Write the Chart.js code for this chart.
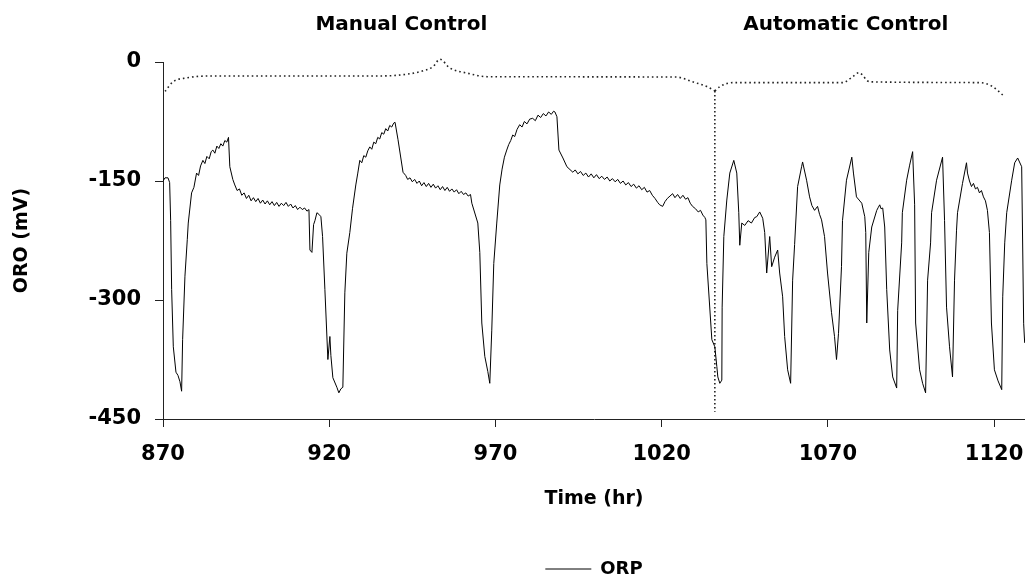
<!DOCTYPE html>
<html><head><meta charset="utf-8">
<script src="https://cdn.jsdelivr.net/npm/chart.js@4/dist/chart.umd.min.js"></script>
<style>html,body{margin:0;padding:0;background:#fff;}canvas{display:block;}</style>
</head><body>
<canvas id="c" width="1025" height="579"></canvas>
<script>
// ---------- data ----------
const orpTime = [
 870.0, 870.6, 871.5, 872.0, 872.3, 872.6, 873.1, 873.9, 874.5, 875.1,
 875.6, 875.9, 876.6, 877.3, 877.6, 878.6, 879.3, 880.1, 880.7, 881.3,
 882.0, 882.6, 883.2, 883.9, 884.5, 885.0, 885.6, 886.2, 886.8, 887.4,
 888.0, 888.6, 889.2, 889.7, 890.1, 891.0, 891.6, 892.3, 893.0, 893.7,
 894.4, 895.1, 895.8, 896.5, 897.2, 897.9, 898.6, 899.3, 900.0, 900.7,
 901.4, 902.1, 902.8, 903.5, 904.2, 904.9, 905.6, 906.3, 907.0, 907.7,
 908.4, 909.1, 909.8, 910.5, 911.2, 911.9, 912.6, 913.3, 913.9, 914.2,
 914.8, 915.3, 915.7, 916.3, 916.9, 917.5, 918.0, 918.7, 919.6, 920.2,
 920.5, 921.1, 922.3, 922.9, 923.5, 924.1, 924.7, 925.3, 926.2, 927.0,
 928.0, 928.6, 929.2, 929.8, 930.4, 931.0, 931.6, 932.2, 932.8, 933.4,
 934.0, 934.6, 935.2, 935.8, 936.4, 937.0, 937.6, 938.2, 938.8, 939.4,
 939.8, 940.7, 942.2, 943.0, 943.6, 944.3, 945.0, 945.7, 946.4, 947.1,
 947.8, 948.5, 949.2, 949.9, 950.6, 951.3, 952.0, 952.7, 953.4, 954.1,
 954.8, 955.5, 956.2, 956.9, 957.6, 958.3, 959.0, 959.7, 960.4, 961.1,
 961.8, 962.5, 962.9, 964.7, 965.3, 965.9, 966.8, 967.7, 968.3, 968.9,
 969.5, 970.4, 971.3, 972.0, 972.7, 973.4, 974.0, 974.6, 975.2, 975.8,
 976.5, 977.3, 978.0, 978.7, 979.5, 980.3, 981.2, 982.0, 982.8, 983.6,
 984.4, 985.2, 986.0, 986.8, 987.5, 987.9, 988.5, 989.1, 990.3, 991.5,
 993.3, 994.0, 994.8, 995.6, 996.4, 997.2, 998.0, 998.8, 999.6, 1000.4,
 1001.2, 1002.0, 1002.8, 1003.6, 1004.4, 1005.2, 1006.0, 1006.8, 1007.6, 1008.4,
 1009.2, 1010.0, 1010.8, 1011.6, 1012.4, 1013.2, 1014.0, 1014.8, 1015.6, 1016.4,
 1017.2, 1018.0, 1018.8, 1019.4, 1020.3, 1021.0, 1021.7, 1022.5, 1023.3, 1024.0,
 1024.8, 1025.6, 1026.4, 1027.2, 1027.9, 1028.6, 1029.3, 1030.2, 1031.0, 1031.7,
 1032.4, 1033.0, 1033.3, 1033.6, 1035.1, 1036.0, 1036.6, 1036.9, 1037.5, 1038.1,
 1038.2, 1038.7, 1039.6, 1040.5, 1041.7, 1042.6, 1043.2, 1043.5, 1044.1, 1045.0,
 1046.0, 1047.0, 1048.0, 1048.6, 1049.5, 1050.4, 1051.0, 1051.6, 1052.5, 1053.1,
 1054.0, 1054.9, 1055.5, 1056.4, 1057.0, 1057.9, 1058.8, 1059.4, 1060.0, 1060.9,
 1062.1, 1062.4, 1063.6, 1064.5, 1065.2, 1066.0, 1066.9, 1067.5, 1068.1, 1069.0,
 1069.9, 1071.1, 1072.0, 1072.6, 1073.2, 1074.1, 1074.4, 1075.6, 1077.2, 1077.7,
 1078.6, 1079.4, 1080.2, 1081.1, 1081.4, 1081.7, 1082.3, 1083.2, 1084.7, 1085.2,
 1085.6, 1086.0, 1086.5, 1087.1, 1087.7, 1088.6, 1089.5, 1090.7, 1091.0, 1092.2,
 1092.4, 1093.7, 1094.6, 1095.5, 1096.1, 1096.4, 1097.6, 1098.5, 1099.4, 1100.0,
 1100.9, 1101.2, 1102.7, 1104.5, 1105.1, 1105.7, 1106.6, 1107.5, 1108.1, 1108.7,
 1109.0, 1110.5, 1111.7, 1112.0, 1112.6, 1113.2, 1113.8, 1114.4, 1115.0, 1115.6,
 1116.2, 1116.8, 1117.4, 1118.0, 1118.6, 1119.2, 1120.1, 1121.2, 1122.3, 1122.6,
 1123.2, 1123.8, 1125.3, 1126.2, 1127.1, 1128.3, 1128.9, 1129.2
];
const orpValue = [
 -150, -146, -146, -152, -200, -287, -359, -391, -395, -403,
 -415, -350, -270, -224, -203, -165, -158, -140, -143, -131,
 -124, -128, -119, -122, -113, -111, -115, -106, -109, -103,
 -106, -99, -101, -95, -132, -148, -155, -162, -160, -168,
 -165, -172, -168, -175, -171, -176, -172, -178, -174, -179,
 -175, -180, -176, -181, -177, -182, -178, -181, -177, -182,
 -179, -184, -181, -186, -183, -186, -184, -188, -186, -237,
 -240, -205, -200, -190, -192, -195, -220, -287, -375, -346,
 -370, -398, -410, -417, -412, -410, -291, -241, -215, -185,
 -155, -140, -124, -127, -118, -120, -112, -107, -110, -101,
 -103, -95, -97, -89, -91, -84, -87, -80, -82, -77,
 -76, -98, -139, -143, -148, -146, -151, -148, -153, -150,
 -156, -152, -157, -153, -158, -154, -159, -156, -161, -157,
 -162, -158, -163, -160, -164, -161, -166, -163, -167, -165,
 -169, -167, -178, -203, -240, -329, -371, -390, -405, -338,
 -254, -203, -155, -135, -120, -111, -104, -99, -92, -94,
 -85, -79, -82, -75, -78, -72, -71, -74, -67, -70,
 -65, -68, -63, -66, -62, -63, -69, -111, -121, -132,
 -139, -136, -141, -138, -143, -140, -145, -141, -146, -142,
 -147, -144, -148, -145, -150, -147, -151, -148, -153, -150,
 -155, -152, -157, -154, -159, -156, -161, -158, -164, -162,
 -168, -172, -177, -180, -182, -176, -172, -169, -166, -171,
 -167, -172, -168, -173, -171, -178, -182, -185, -189, -187,
 -193, -196, -199, -254, -350, -359, -384, -397, -405, -401,
 -309, -220, -174, -140, -124, -140, -190, -231, -203, -206,
 -200, -203, -196, -195, -189, -197, -215, -266, -220, -258,
 -246, -237, -266, -296, -346, -388, -405, -275, -230, -157,
 -132, -126, -149, -170, -181, -187, -182, -192, -199, -220,
 -266, -316, -346, -375, -342, -258, -200, -149, -120, -140,
 -170, -174, -178, -195, -215, -329, -240, -208, -187, -183,
 -180, -185, -184, -208, -287, -363, -397, -411, -313, -228,
 -190, -149, -130, -113, -180, -329, -388, -405, -417, -275,
 -228, -190, -149, -120, -200, -309, -359, -397, -275, -212,
 -190, -153, -127, -140, -150, -157, -153, -160, -158, -165,
 -162, -170, -175, -187, -215, -329, -388, -402, -413, -296,
 -228, -190, -149, -127, -121, -132, -330, -354
];
const manualBraceX = [870.6, 873.0, 877.2, 884.1, 935.0, 941.3, 947.3, 951.2, 953.3, 956.3, 961.4, 967.4, 1024.5, 1029.3, 1033.6, 1036.0];
const manualBraceY = [-37, -25, -20, -17.6, -17.6, -16.4, -12.2, -5.9, 3.4, -7.6, -13.9, -18.5, -19, -25, -31, -36.5];
const autoBraceX = [1036.0, 1037.5, 1041.4, 1074.4, 1077.5, 1079.3, 1082.6, 1115.7, 1119.6, 1122.6];
const autoBraceY = [-36.5, -31, -26, -26, -18.5, -13.5, -25, -26, -31, -41.6];
const dividerX = [1036.0, 1036.0];
const dividerY = [-36.5, -441];
const xTickValues = [870, 920, 970, 1020, 1070, 1120];
const yTickValues = [0, -150, -300, -450];
const phaseLabels = ['Manual Control', 'Automatic Control'];
const phaseLabelX = [941.7, 1075.4];

// ---------- chart ----------
const FONT = '"DejaVu Sans", "Liberation Sans", Arial, sans-serif';
const toPts = (xs, ys) => xs.map((v, i) => ({x: v, y: ys[i]}));

const phaseLabelPlugin = {
  id: 'phaseLabels',
  afterDraw(chart) {
    const {ctx} = chart;
    const x = chart.scales.x;
    ctx.save();
    ctx.font = 'bold 20px ' + FONT;
    ctx.fillStyle = '#000';
    ctx.textAlign = 'center';
    ctx.textBaseline = 'middle';
    phaseLabels.forEach((t, i) => ctx.fillText(t, x.getPixelForValue(phaseLabelX[i]), 25));
    ctx.restore();
  }
};

const dotted = {borderColor: '#222', borderWidth: 1.6, borderDash: [1.6, 3], pointRadius: 0, fill: false, clip: false};

new Chart(document.getElementById('c'), {
  type: 'line',
  data: {
    datasets: [
      {label: 'ORP', data: toPts(orpTime, orpValue), borderColor: '#000', backgroundColor: '#000', borderWidth: 1, pointRadius: 0, tension: 0, fill: false},
      Object.assign({label: 'manual', data: toPts(manualBraceX, manualBraceY), cubicInterpolationMode: 'monotone'}, dotted),
      Object.assign({label: 'auto', data: toPts(autoBraceX, autoBraceY), cubicInterpolationMode: 'monotone'}, dotted),
      Object.assign({label: 'divider', data: toPts(dividerX, dividerY), tension: 0}, dotted, {borderDash: [1.6, 2.4]})
    ]
  },
  options: {
    responsive: false,
    animation: false,
    devicePixelRatio: 1,
    layout: {padding: {top: 62, left: 0, right: 0, bottom: -9}},
    plugins: {
      tooltip: {enabled: false},
      legend: {
        position: 'bottom',
        fullSize: false,
        labels: {
          filter: item => item.datasetIndex === 0,
          usePointStyle: true,
          pointStyle: 'line',
          pointStyleWidth: 46,
          padding: 10,
          color: '#000',
          font: {family: FONT, size: 18, weight: 'bold'}
        }
      }
    },
    scales: {
      x: {
        type: 'linear',
        min: 870,
        max: 1129.3,
        afterBuildTicks: s => { s.ticks = xTickValues.map(v => ({value: v})); },
        afterFit: s => { s.height = 131; s.paddingLeft = 0; s.paddingRight = 0; },
        ticks: {padding: 15, color: '#000', font: {family: FONT, size: 21, weight: 'bold'}, callback: v => String(v), maxRotation: 0},
        grid: {drawOnChartArea: false, drawTicks: true, tickLength: 8, color: '#222'},
        border: {display: true, color: '#222', width: 1},
        title: {display: true, text: 'Time (hr)', color: '#000', font: {family: FONT, size: 19, weight: 'bold'}, padding: {top: 0, bottom: 40}}
      },
      y: {
        type: 'linear',
        min: -450,
        max: 0,
        afterBuildTicks: s => { s.ticks = yTickValues.map(v => ({value: v})); },
        afterFit: s => { s.width = 163; },
        ticks: {padding: 14, color: '#000', font: {family: FONT, size: 21, weight: 'bold'}, callback: v => String(v)},
        grid: {drawOnChartArea: false, drawTicks: true, tickLength: 8, color: '#222'},
        border: {display: true, color: '#222', width: 1},
        title: {display: true, text: 'ORO (mV)', color: '#000', font: {family: FONT, size: 19, weight: 'bold'}, padding: {top: 11, bottom: 0}}
      }
    }
  },
  plugins: [phaseLabelPlugin]
});
</script>
</body></html>
